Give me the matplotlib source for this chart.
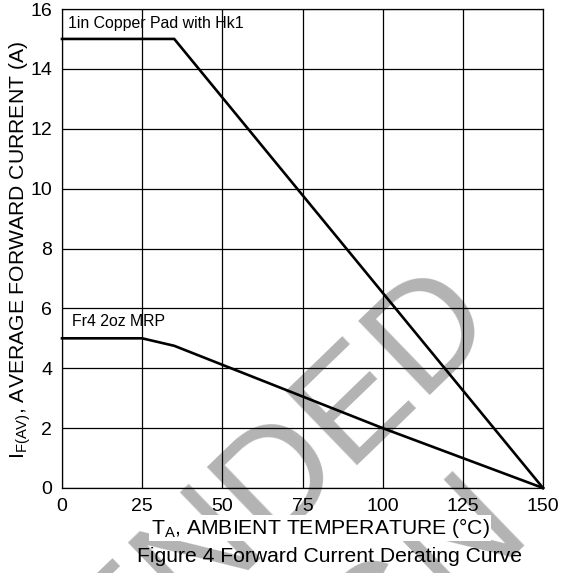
import matplotlib
matplotlib.use("Agg")
import matplotlib.pyplot as plt

plt.rcParams['font.family'] = ['Liberation Sans', 'DejaVu Sans']
plt.rcParams['mathtext.fontset'] = 'custom'
plt.rcParams['mathtext.rm'] = 'Liberation Sans'
plt.rcParams['mathtext.it'] = 'Liberation Sans'

# Data
hk1_temp = [0, 35, 150]
hk1_current = [15, 15, 0]
fr4_temp = [0, 25, 35, 100, 150]
fr4_current = [5, 5, 4.75, 2, 0]
x_ticks = [0, 25, 50, 75, 100, 125, 150]
y_ticks = [0, 2, 4, 6, 8, 10, 12, 14, 16]
hk1_label = "1in Copper Pad with Hk1"
fr4_label = "Fr4 2oz MRP"
watermark_line1 = "NOT RECOMMENDED"
watermark_line2 = "FOR NEW DESIGN"

fig = plt.figure(figsize=(5.72, 5.73), dpi=100)
ax = fig.add_axes([62/572, 1-488/573, (543-62)/572, (488-9)/573])
ax.patch.set_visible(False)

ax.plot(hk1_temp, hk1_current, color='black', lw=1.9, solid_joinstyle='miter', zorder=3, clip_on=False)
ax.plot(fr4_temp, fr4_current, color='black', lw=1.9, solid_joinstyle='miter', zorder=3, clip_on=False)

ax.set_xlim(0, 150)
ax.set_ylim(0, 16)
ax.set_xticks(x_ticks)
ax.set_yticks(y_ticks)
ax.tick_params(length=0, labelsize=14, pad=7)
ax.grid(True, color='black', lw=0.9)
for s in ax.spines.values():
    s.set_color('black')
    s.set_linewidth(0.9)

ax.text(1.8, 15.5, hk1_label, fontsize=11.4, ha='left', va='center')
ax.text(3.0, 5.56, fr4_label, fontsize=11.4, ha='left', va='center')

fig.text(320/572, 1-528/573, r'T$_{\mathregular{A}}$, AMBIENT TEMPERATURE (°C)', fontsize=15.2,
         ha='center', va='center', zorder=3,
         bbox=dict(facecolor='white', edgecolor='none', pad=1))
fig.text(330/572, 1-557/573, 'Figure 4 Forward Current Derating Curve', fontsize=15.2,
         ha='center', va='center', zorder=3)
fig.text(20/572, 1-250/573, r'I$_{\mathregular{F(AV)}}$, AVERAGE FORWARD CURRENT (A)', fontsize=15.2,
         rotation=90, ha='center', va='center', zorder=3)

wm_color = '#b3b3b3'
fig.text(500/572, 1-327/573, watermark_line1, fontsize=109, color=wm_color,
         rotation=44, rotation_mode='anchor', ha='right', va='baseline', zorder=-1)
fig.text(534/572, 1-537/573, watermark_line2, fontsize=109, color=wm_color,
         rotation=44, rotation_mode='anchor', ha='right', va='baseline', zorder=-1)

fig.savefig('out.png', dpi=100)
